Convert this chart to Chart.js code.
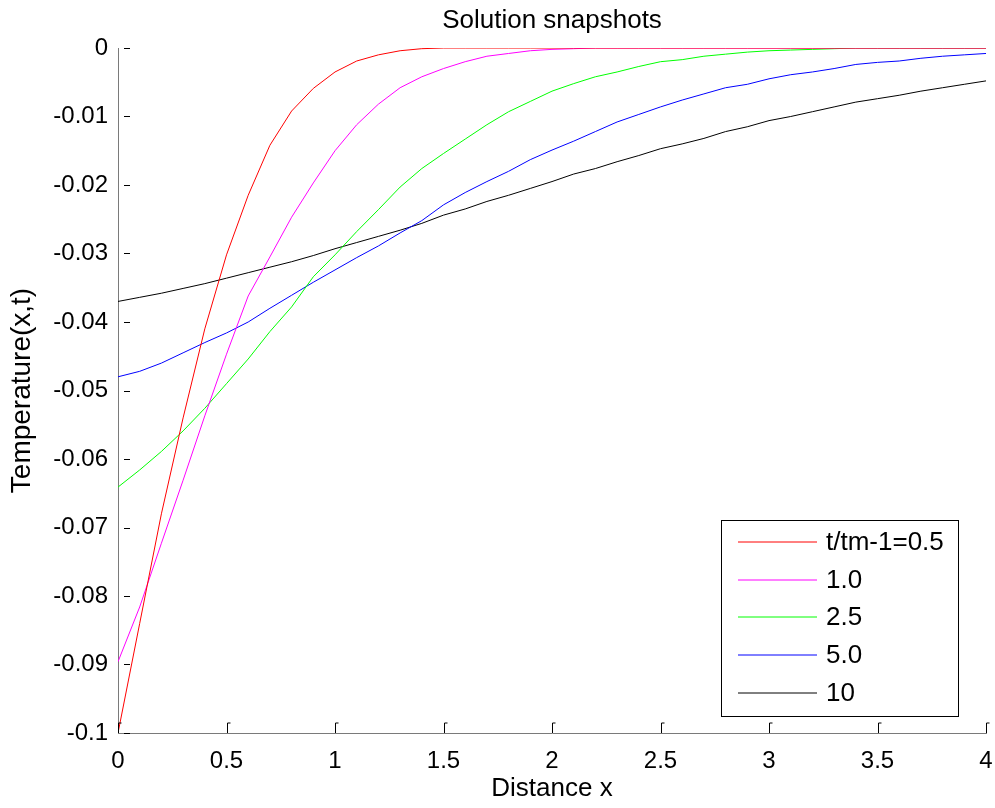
<!DOCTYPE html>
<html>
<head>
<meta charset="utf-8">
<script src="https://cdn.jsdelivr.net/npm/chart.js@4.4.1/dist/chart.umd.min.js"></script>
<style>
  html, body { margin: 0; padding: 0; background: #fff; }
  #wrap { width: 995px; height: 808px; }
</style>
</head>
<body>
<div id="wrap"><canvas id="ctx-snapshots" width="995" height="808"></canvas></div>
<script>
// distance x along the rod
const xs = [0, 0.1, 0.2, 0.3, 0.4, 0.5, 0.6, 0.7, 0.8, 0.9,
  1.0, 1.1, 1.2, 1.3, 1.4, 1.5, 1.6, 1.7, 1.8, 1.9,
  2.0, 2.1, 2.2, 2.3, 2.4, 2.5, 2.6, 2.7, 2.8, 2.9,
  3.0, 3.1, 3.2, 3.3, 3.4, 3.5, 3.6, 3.7, 3.8, 3.9, 4.0];

// temperature snapshots
const tHalf = [-0.1000, -0.0840, -0.0680, -0.0540, -0.0410, -0.0302, -0.0215, -0.0142, -0.0092, -0.0059,
  -0.0035, -0.0019, -0.0010, -0.0004, -0.0001, 0, 0, 0, 0, 0,
  0, 0, 0, 0, 0, 0, 0, 0, 0, 0,
  0, 0, 0, 0, 0, 0, 0, 0, 0, 0, 0];
const tOne = [-0.0896, -0.0816, -0.0723, -0.0631, -0.0537, -0.0447, -0.0362, -0.0305, -0.0247, -0.0197,
  -0.0150, -0.0112, -0.0082, -0.0058, -0.0042, -0.0030, -0.0020, -0.0012, -0.0008, -0.0004,
  -0.0002, -0.0001, 0, 0, 0, 0, 0, 0, 0, 0,
  0, 0, 0, 0, 0, 0, 0, 0, 0, 0, 0];
const tTwoHalf = [-0.0641, -0.0616, -0.0589, -0.0559, -0.0526, -0.0490, -0.0454, -0.0414, -0.0378, -0.0334,
  -0.0302, -0.0268, -0.0236, -0.0203, -0.0176, -0.0154, -0.0133, -0.0112, -0.0093, -0.0078,
  -0.0063, -0.0052, -0.0042, -0.0035, -0.0027, -0.0020, -0.0017, -0.0012, -0.0009, -0.0006,
  -0.0004, -0.0003, -0.0002, -0.0001, 0, 0, 0, 0, 0, 0, 0];
const tFive = [-0.0480, -0.0472, -0.0460, -0.0445, -0.0430, -0.0416, -0.0400, -0.0380, -0.0361, -0.0342,
  -0.0324, -0.0306, -0.0289, -0.0270, -0.0252, -0.0229, -0.0211, -0.0195, -0.0180, -0.0163,
  -0.0149, -0.0136, -0.0122, -0.0108, -0.0097, -0.0086, -0.0076, -0.0067, -0.0058, -0.0053,
  -0.0045, -0.0039, -0.0035, -0.0030, -0.0024, -0.0021, -0.0019, -0.0015, -0.0012, -0.0010, -0.0008];
const tTen = [-0.0370, -0.0364, -0.0358, -0.0351, -0.0344, -0.0336, -0.0328, -0.0320, -0.0312, -0.0303,
  -0.0293, -0.0284, -0.0275, -0.0266, -0.0256, -0.0244, -0.0235, -0.0224, -0.0215, -0.0205,
  -0.0195, -0.0184, -0.0176, -0.0166, -0.0157, -0.0147, -0.0140, -0.0132, -0.0122, -0.0115,
  -0.0106, -0.0100, -0.0093, -0.0086, -0.0079, -0.0074, -0.0069, -0.0063, -0.0058, -0.0053, -0.0048];

const seriesLabels = ['t/tm-1=0.5', '1.0', '2.5', '5.0', '10'];
const seriesColors = ['#ff0000', '#ff00ff', '#00ff00', '#0000ff', '#000000'];
const seriesValues = [tHalf, tOne, tTwoHalf, tFive, tTen];
const chartTitle = 'Solution snapshots';

const FONT = 'Arial, "Liberation Sans", sans-serif';

// matlab style title over the axes, inward ticks, boxed legend in the lower right
const matlabBits = {
  id: 'matlabBits',
  afterDraw(chart) {
    const { ctx, chartArea } = chart;
    const xScale = chart.scales.x;
    const yScale = chart.scales.y;
    ctx.save();

    ctx.fillStyle = '#000';
    ctx.font = `26px ${FONT}`;
    ctx.textAlign = 'center';
    ctx.textBaseline = 'alphabetic';
    ctx.fillText(chartTitle, (chartArea.left + chartArea.right) / 2, 28);

    ctx.strokeStyle = '#000';
    ctx.lineWidth = 1;
    yScale.ticks.forEach((t) => {
      const py = Math.round(yScale.getPixelForValue(t.value)) + 0.5;
      ctx.beginPath();
      ctx.moveTo(chartArea.left + 6, py);
      ctx.lineTo(chartArea.left + 12, py);
      ctx.stroke();
    });
    xScale.ticks.forEach((t) => {
      const px = Math.round(xScale.getPixelForValue(t.value)) + 0.5;
      ctx.beginPath();
      ctx.moveTo(px, chartArea.bottom);
      ctx.lineTo(px, chartArea.bottom - 10);
      ctx.lineTo(px + 3, chartArea.bottom - 10);
      ctx.stroke();
    });

    // legend (lines on whole pixels so they come out soft like the original)
    const bx = chartArea.right - 265;
    const by = chartArea.bottom - 213;
    const bw = 237;
    const bh = 196;
    ctx.fillStyle = '#fff';
    ctx.fillRect(bx, by, bw, bh);
    ctx.strokeStyle = '#000';
    ctx.strokeRect(bx + 0.5, by + 0.5, bw, bh);
    ctx.font = `26px ${FONT}`;
    ctx.textBaseline = 'middle';
    ctx.textAlign = 'left';
    chart.data.datasets.forEach((ds, i) => {
      const ry = Math.round(by + 22 + i * 37.7);
      ctx.strokeStyle = seriesColors[i];
      ctx.beginPath();
      ctx.moveTo(bx + 17, ry);
      ctx.lineTo(bx + 96, ry);
      ctx.stroke();
      ctx.fillStyle = '#000';
      ctx.fillText(ds.label, bx + 105, ry + 1);
    });
    ctx.restore();
  },
};

new Chart(document.getElementById('ctx-snapshots').getContext('2d'), {
  type: 'line',
  data: {
    datasets: seriesLabels.map((label, i) => ({
      label,
      data: xs.map((x, j) => ({ x, y: seriesValues[i][j] })),
      borderColor: seriesColors[i],
      backgroundColor: seriesColors[i],
      borderWidth: 1,
      pointRadius: 0,
      tension: 0,
      fill: false,
    })),
  },
  options: {
    responsive: false,
    animation: false,
    devicePixelRatio: 1,
    layout: { padding: { left: 0, right: 9, top: 48, bottom: 0 } },
    plugins: {
      legend: { display: false },
      tooltip: { enabled: false },
      title: { display: false },
    },
    scales: {
      x: {
        type: 'linear',
        min: 0,
        max: 4,
        afterFit: (s) => {
          s.height = 75;
          s.paddingLeft = 0;
          s.paddingRight = 0;
        },
        ticks: {
          stepSize: 0.5,
          padding: 14,
          color: '#000',
          maxRotation: 0,
          autoSkip: false,
          font: { family: FONT, size: 24 },
          callback: (v) => String(v),
        },
        grid: { display: true, drawOnChartArea: false, drawTicks: false },
        border: { display: true, color: '#7a7a7a', width: 1 },
        title: {
          display: true,
          text: 'Distance x',
          color: '#000',
          font: { family: FONT, size: 26 },
          padding: { top: 0, bottom: 4 },
        },
      },
      y: {
        type: 'linear',
        min: -0.1,
        max: 0,
        afterFit: (s) => { s.width = 118; },
        ticks: {
          stepSize: 0.01,
          padding: 10,
          color: '#000',
          autoSkip: false,
          font: { family: FONT, size: 24 },
          callback: (v) => String(parseFloat(v.toFixed(3))),
        },
        grid: { display: true, drawOnChartArea: false, drawTicks: false },
        border: { display: true, color: '#7a7a7a', width: 1 },
        title: {
          display: true,
          text: 'Temperature(x,t)',
          color: '#000',
          font: { family: FONT, size: 28 },
          padding: { top: 5, bottom: 0 },
        },
      },
    },
  },
  plugins: [matlabBits],
});
</script>
</body>
</html>
